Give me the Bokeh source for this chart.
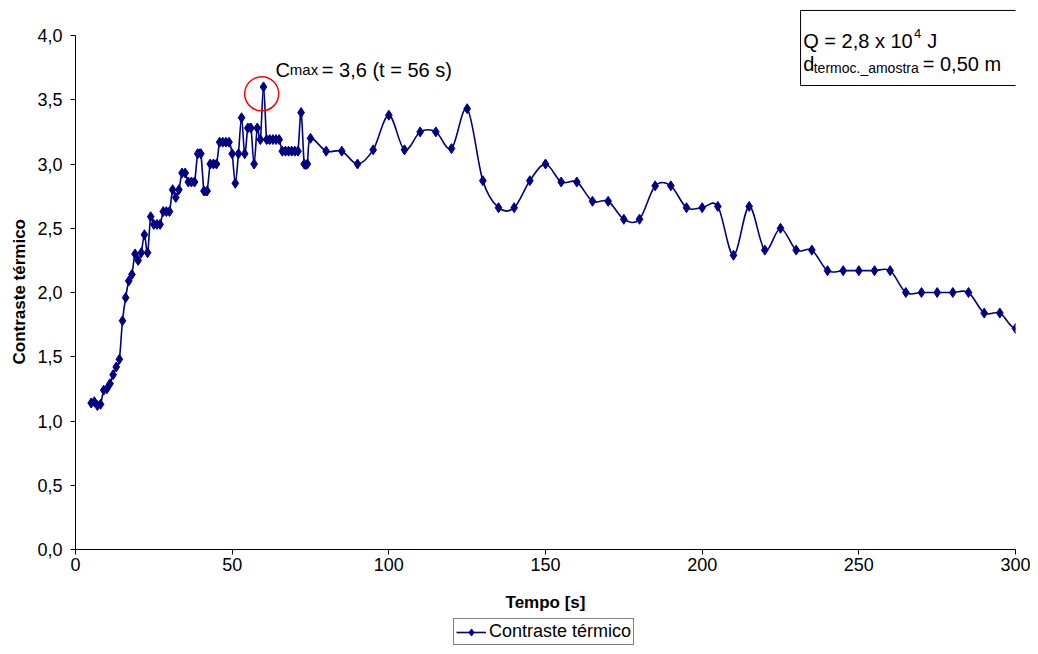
import numpy as np
from bokeh.plotting import figure
from bokeh.layouts import column
from bokeh.models import (FixedTicker, Label, Legend, LegendItem, ColumnDataSource, Title)
from bokeh.embed import file_html
from bokeh.resources import INLINE

# ---------------- data ----------------
tempo = [5, 6, 7, 8, 9, 10, 11, 12, 13, 14, 15, 16, 17, 18, 19, 20, 21, 22, 23, 24,
         25, 26, 27, 28, 29, 30, 31, 32, 33, 34, 35, 36, 37, 38, 39, 40, 41, 42, 43, 44,
         45, 46, 47, 48, 49, 50, 51, 52, 53, 54, 55, 56, 57, 58, 59, 60, 61, 62, 63, 64,
         65, 66, 67, 68, 69, 70, 71, 72, 73, 74, 75, 80, 85, 90, 95, 100, 105, 110, 115, 120,
         125, 130, 135, 140, 145, 150, 155, 160, 165, 170, 175, 180, 185, 190, 195, 200, 205, 210, 215, 220,
         225, 230, 235, 240, 245, 250, 255, 260, 265, 270, 275, 280, 285, 290, 295, 300, 305]
contraste = [1.14, 1.15, 1.12, 1.13, 1.24, 1.25, 1.29, 1.36, 1.42, 1.48, 1.78, 1.96, 2.09, 2.14, 2.30, 2.25, 2.31, 2.45, 2.31, 2.59,
             2.53, 2.53, 2.53, 2.63, 2.63, 2.63, 2.80, 2.74, 2.80, 2.93, 2.93, 2.86, 2.86, 2.86, 3.08, 3.08, 2.79, 2.79, 3.00, 3.00,
             3.00, 3.17, 3.17, 3.17, 3.17, 3.08, 2.85, 3.08, 3.36, 3.08, 3.28, 3.28, 3.00, 3.28, 3.19, 3.60, 3.19, 3.19, 3.19, 3.19,
             3.19, 3.10, 3.10, 3.10, 3.10, 3.10, 3.10, 3.40, 3.00, 3.00, 3.20, 3.10, 3.10, 3.00, 3.11, 3.38, 3.11, 3.25, 3.25, 3.12,
             3.43, 2.87, 2.66, 2.66, 2.87, 3.00, 2.86, 2.86, 2.71, 2.71, 2.57, 2.57, 2.83, 2.83, 2.66, 2.66, 2.67, 2.29, 2.67, 2.33,
             2.50, 2.33, 2.33, 2.17, 2.17, 2.17, 2.17, 2.17, 2.00, 2.00, 2.00, 2.00, 2.00, 1.84, 1.84, 1.72, 1.85]

x_ticks = [0, 50, 100, 150, 200, 250, 300]
x_tick_labels = ["0", "50", "100", "150", "200", "250", "300"]
y_ticks = [0.0, 0.5, 1.0, 1.5, 2.0, 2.5, 3.0, 3.5, 4.0]
y_tick_labels = ["0,0", "0,5", "1,0", "1,5", "2,0", "2,5", "3,0", "3,5", "4,0"]

series_name = "Contraste térmico"
x_title = "Tempo [s]"
y_title = "Contraste térmico"

peak_t = 60
peak_c = 3.60

# ---------------- style ----------------
NAVY = "#000080"
FONT = "Liberation Sans"
Y_TOP = 4.2724   # frame reaches the top of the canvas so the info box can be drawn

p = figure(width=1030, height=618, x_range=(0, 300), y_range=(0, Y_TOP),
           output_backend="svg", toolbar_location=None,
           min_border_left=75, min_border_right=15, min_border_top=0, min_border_bottom=69)
p.outline_line_color = None
p.grid.visible = False
p.background_fill_color = "white"
p.border_fill_color = "white"

for ax in (p.xaxis[0], p.yaxis[0]):
    ax.axis_line_color = "black"
    ax.major_tick_line_color = "black"
    ax.minor_tick_line_color = None
    ax.major_tick_out = 5
    ax.major_tick_in = 0
    ax.major_label_text_font = FONT
    ax.major_label_text_font_size = "18px"
    ax.major_label_text_color = "black"
    ax.axis_label_text_font = FONT
    ax.axis_label_text_font_style = "bold"
    ax.axis_label_text_font_size = "17px"
    ax.axis_label_text_color = "black"

p.xaxis.ticker = FixedTicker(ticks=x_ticks)
p.xaxis.major_label_overrides = dict(zip(x_ticks, x_tick_labels))
p.xaxis.bounds = (0, 300)
p.yaxis.ticker = FixedTicker(ticks=y_ticks)
p.yaxis.major_label_overrides = dict(zip(y_ticks, y_tick_labels))
p.yaxis.bounds = (0, 4.0)
p.xaxis.axis_label = x_title
p.xaxis.major_label_standoff = 3
p.xaxis.axis_label_standoff = 19
p.yaxis.major_label_standoff = 8

ytitle = Title(text=y_title, align="left", offset=185, standoff=11,
               text_font=FONT, text_font_style="bold", text_font_size="17px",
               text_color="black")
p.add_layout(ytitle, "left")

# smoothed line (Catmull-Rom style bezier segments, like a spreadsheet "smoothed line")
xs = np.array(tempo, dtype=float)
ys = np.array(contraste, dtype=float)
xp = np.concatenate([[xs[0]], xs, [xs[-1]]])
yp = np.concatenate([[ys[0]], ys, [ys[-1]]])
n = len(xs)
x0 = xs[:-1]; y0 = ys[:-1]; x1 = xs[1:]; y1 = ys[1:]
cx0 = x0 + (xp[2:n + 1] - xp[0:n - 1]) / 6.0
cy0 = y0 + (yp[2:n + 1] - yp[0:n - 1]) / 6.0
cx1 = x1 - (xp[3:n + 2] - xp[1:n]) / 6.0
cy1 = y1 - (yp[3:n + 2] - yp[1:n]) / 6.0
seg = ColumnDataSource(dict(x0=x0, y0=y0, x1=x1, y1=y1, cx0=cx0, cy0=cy0, cx1=cx1, cy1=cy1))
p.bezier(x0="x0", y0="y0", x1="x1", y1="y1", cx0="cx0", cy0="cy0", cx1="cx1", cy1="cy1",
         source=seg, line_color=NAVY, line_width=1.6)

p.scatter(tempo, contraste, marker="diamond", size=10, fill_color=NAVY, line_color=NAVY)

# peak marker (red circle)
p.scatter([peak_t - 0.57], [peak_c - 0.054], marker="circle", size=34,
          fill_color=None, line_color="red", line_width=1.5)

# info box (top right) -- its right side runs off the chart, so it is clipped like a glyph
p.quad(left=[231.4], right=[330], bottom=[3.611], top=[4.195],
       fill_color="white", line_color="black", line_width=1)

def lab(x, y, text, size, **kw):
    p.add_layout(Label(x=x, y=y, text=text, text_font=FONT, text_font_size=size,
                       text_color="black", text_align="left", text_baseline="alphabetic", **kw))

# peak annotation text
lab(63.8, 3.735, "C", "20px")
lab(68.4, 3.735, "max", "15px")
lab(78.6, 3.735, " = 3,6 (t = 56 s)", "20px")

# info box texts
lab(232.25, 3.957, "Q = 2,8 x 10", "20px")
lab(267.6, 4.018, "4", "13px")
lab(271.8, 3.957, "J", "20px")
lab(232.25, 3.780, "d", "20px")
lab(235.6, 3.746, "termoc._amostra", "14px")
lab(270.4, 3.780, "= 0,50 m", "20px")

# ---------------- legend strip below ----------------
lf = figure(width=1030, height=28, x_range=(0, 1), y_range=(0, 1),
            output_backend="svg", toolbar_location=None,
            x_axis_type=None, y_axis_type=None,
            min_border_left=0, min_border_right=0, min_border_top=0, min_border_bottom=0)
lf.outline_line_color = None
lf.grid.visible = False
lf.background_fill_color = "white"
lf.border_fill_color = "white"
# legend proxies: same series, all outside this strip's (0, 1) range, so only the legend shows
proxy_line = lf.line(tempo, contraste, line_color=NAVY, line_width=1.6)
proxy_pt = lf.scatter(tempo, contraste, marker="diamond", size=10, fill_color=NAVY, line_color=NAVY)
legend = Legend(items=[LegendItem(label=series_name, renderers=[proxy_line, proxy_pt])],
                location=(378, 1), orientation="horizontal",
                border_line_color="black", border_line_width=1,
                background_fill_color="white", background_fill_alpha=1,
                label_text_font=FONT, label_text_font_size="18px", label_text_color="black",
                glyph_width=30, glyph_height=18, label_height=18, label_standoff=3,
                padding=2, margin=0, spacing=0)
lf.add_layout(legend, "center")

layout = column(p, lf, spacing=0)
open("out.html", "w").write(file_html(layout, INLINE))
